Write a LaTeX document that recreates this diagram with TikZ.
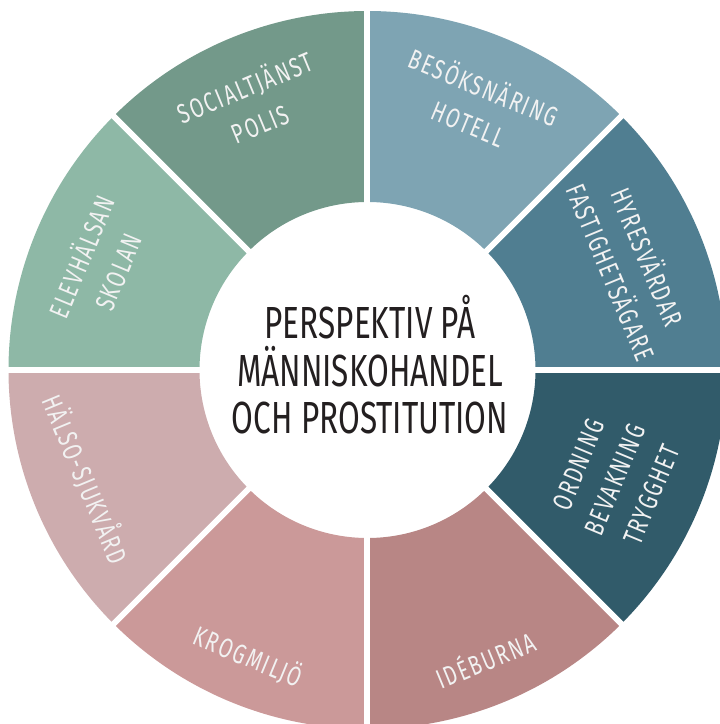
\documentclass[tikz,border=0pt]{standalone}
\usepackage{fontspec}
\setmainfont{Fira Sans}[FakeStretch=0.7]
\newfontfamily\segfont{Fira Sans}[FakeStretch=0.72,LetterSpace=7]
\usetikzlibrary{positioning}

\definecolor{socialcol}{HTML}{73998A}
\definecolor{elevcol}{HTML}{8EB8A6}
\definecolor{besokcol}{HTML}{7EA4B3}
\definecolor{hyrescol}{HTML}{507E91}
\definecolor{ordningcol}{HTML}{315B6A}
\definecolor{ideburnacol}{HTML}{B88685}
\definecolor{krogcol}{HTML}{CB9999}
\definecolor{halsocol}{HTML}{CDACAE}
\definecolor{titlecol}{HTML}{231F20}
\definecolor{labelcol}{HTML}{F2F2F2}

\begin{document}
\begin{tikzpicture}[x=0.025cm,y=0.025cm,
    seglabel/.style={text=labelcol,inner sep=0pt,align=center,
      font={\segfont\fontsize{19.5}{28}\selectfont}},
    titlelabel/.style={text=titlecol,inner sep=0pt,align=center,
      font={\fontsize{32}{33.7}\selectfont}},
    gapline/.style={white,line width=0.15cm}]
      %\draw[help lines] (-360, -360) grid[step=40] (360, 360);
      \useasboundingbox (-367.5,-354) rectangle (352.5,370);

      % ring, one sector per field
      \fill[besokcol]    (45:168)  arc[start angle=45, end angle=90, radius=168]   -- (90:359)  arc[start angle=90, end angle=45, radius=359]   -- cycle;
      \fill[socialcol]   (90:168)  arc[start angle=90, end angle=135, radius=168]  -- (135:359) arc[start angle=135, end angle=90, radius=359]  -- cycle;
      \fill[elevcol]     (135:168) arc[start angle=135, end angle=180, radius=168] -- (180:359) arc[start angle=180, end angle=135, radius=359] -- cycle;
      \fill[halsocol]    (180:168) arc[start angle=180, end angle=225, radius=168] -- (225:359) arc[start angle=225, end angle=180, radius=359] -- cycle;
      \fill[krogcol]     (225:168) arc[start angle=225, end angle=270, radius=168] -- (270:359) arc[start angle=270, end angle=225, radius=359] -- cycle;
      \fill[ideburnacol] (270:168) arc[start angle=270, end angle=315, radius=168] -- (315:359) arc[start angle=315, end angle=270, radius=359] -- cycle;
      \fill[ordningcol]  (315:168) arc[start angle=315, end angle=360, radius=168] -- (360:359) arc[start angle=360, end angle=315, radius=359] -- cycle;
      \fill[hyrescol]    (0:168)   arc[start angle=0, end angle=45, radius=168]    -- (45:359)  arc[start angle=45, end angle=0, radius=359]    -- cycle;

      % white gaps between the sectors
      \foreach \a in {0,45,...,315}
        \draw[gapline] (\a:160) -- (\a:365);

      \node[titlelabel] (title) at (2.5,5) {PERSPEKTIV PÅ\\MÄNNISKOHANDEL\\OCH PROSTITUTION};

      \node[seglabel,rotate=22.5]  (social)   at (113.5:290)   {SOCIALTJÄNST\\POLIS};
      \node[seglabel,rotate=-22.5] (besok)    at (67.7:287.5)  {BESÖKSNÄRING\\HOTELL};
      \node[seglabel,rotate=-67.5] (hyres)    at (21.9:284)    {HYRESVÄRDAR\\FASTIGHETSÄGARE};
      \node[seglabel,rotate=67.5]  (ordning)  at (-23.9:270.6) {ORDNING\\BEVAKNING\\TRYGGHET};
      \node[seglabel,rotate=22.5]  (ideburna) at (-67.8:311.7) {IDÉBURNA};
      \node[seglabel,rotate=-22.5] (krog)     at (247.4:310)   {KROGMILJÖ};
      \node[seglabel,rotate=-67.5] (halso)    at (201.2:301.4) {HÄLSO-SJUKVÅRD};
      \node[seglabel,rotate=67.5]  (elev)     at (158.5:289.6) {ELEVHÄLSAN\\SKOLAN};
\end{tikzpicture}
\end{document}
